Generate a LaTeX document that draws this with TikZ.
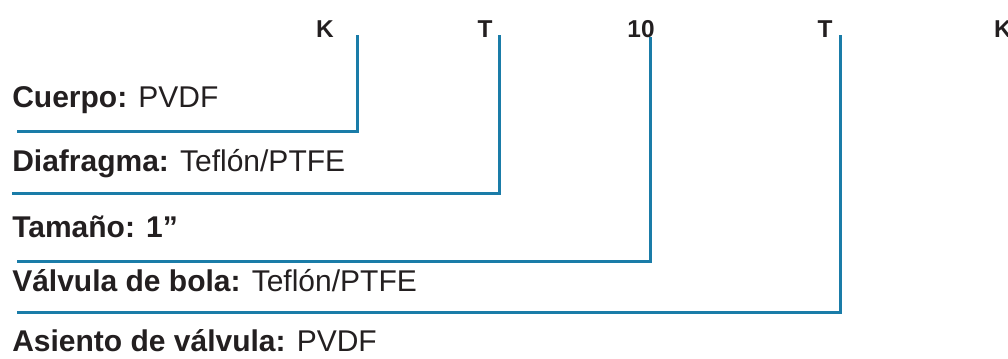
\documentclass[tikz,border=0pt]{standalone}
\usepackage{fontspec}
\setmainfont{Liberation Sans}
\definecolor{lineblue}{HTML}{1A7CA8}
\definecolor{txt}{HTML}{231F20}
\begin{document}
\begin{tikzpicture}[x=0.75pt,y=-0.75pt,
  code/.style={font=\bfseries\fontsize{18.3}{20}\selectfont, text=txt, inner sep=0pt, anchor=base},
  row/.style={font=\fontsize{22.5}{26}\selectfont, text=txt, inner sep=0pt, anchor=base west},
  link/.style={draw=lineblue, line width=2.25pt}]
\useasboundingbox (0,0) rectangle (1008,358);
% code letters
\node[code] (c1) at (325,37) {K};
\node[code] (c2) at (485,37) {T};
\node[code] (c3) at (641,37) {10};
\node[code] (c4) at (825,37) {T};
\node[code] (c5) at (1003,37) {K};
% rows
\node[row] (r1) at (12,107) {\textbf{Cuerpo:} PVDF};
\node[row] (r2) at (12,171) {\textbf{Diafragma:} Teflón/PTFE};
\node[row] (r3) at (12,237) {\textbf{Tamaño: 1”}};
\node[row] (r4) at (12,291) {\textbf{Válvula de bola:} Teflón/PTFE};
\node[row] (r5) at (12,351) {\textbf{Asiento de válvula:} PVDF};
% connector points
\coordinate (t1) at (357,35);
\coordinate (e1) at (17,131);
\coordinate (t2) at (499,35);
\coordinate (e2) at (12,193);
\coordinate (t3) at (650,37);
\coordinate (e3) at (17,261);
\coordinate (t4) at (840,35);
\coordinate (e4) at (17,312);
\draw[link] (t1) |- (e1);
\draw[link] (t2) |- (e2);
\draw[link] (t3) |- (e3);
\draw[link] (t4) |- (e4);
\end{tikzpicture}
\end{document}
